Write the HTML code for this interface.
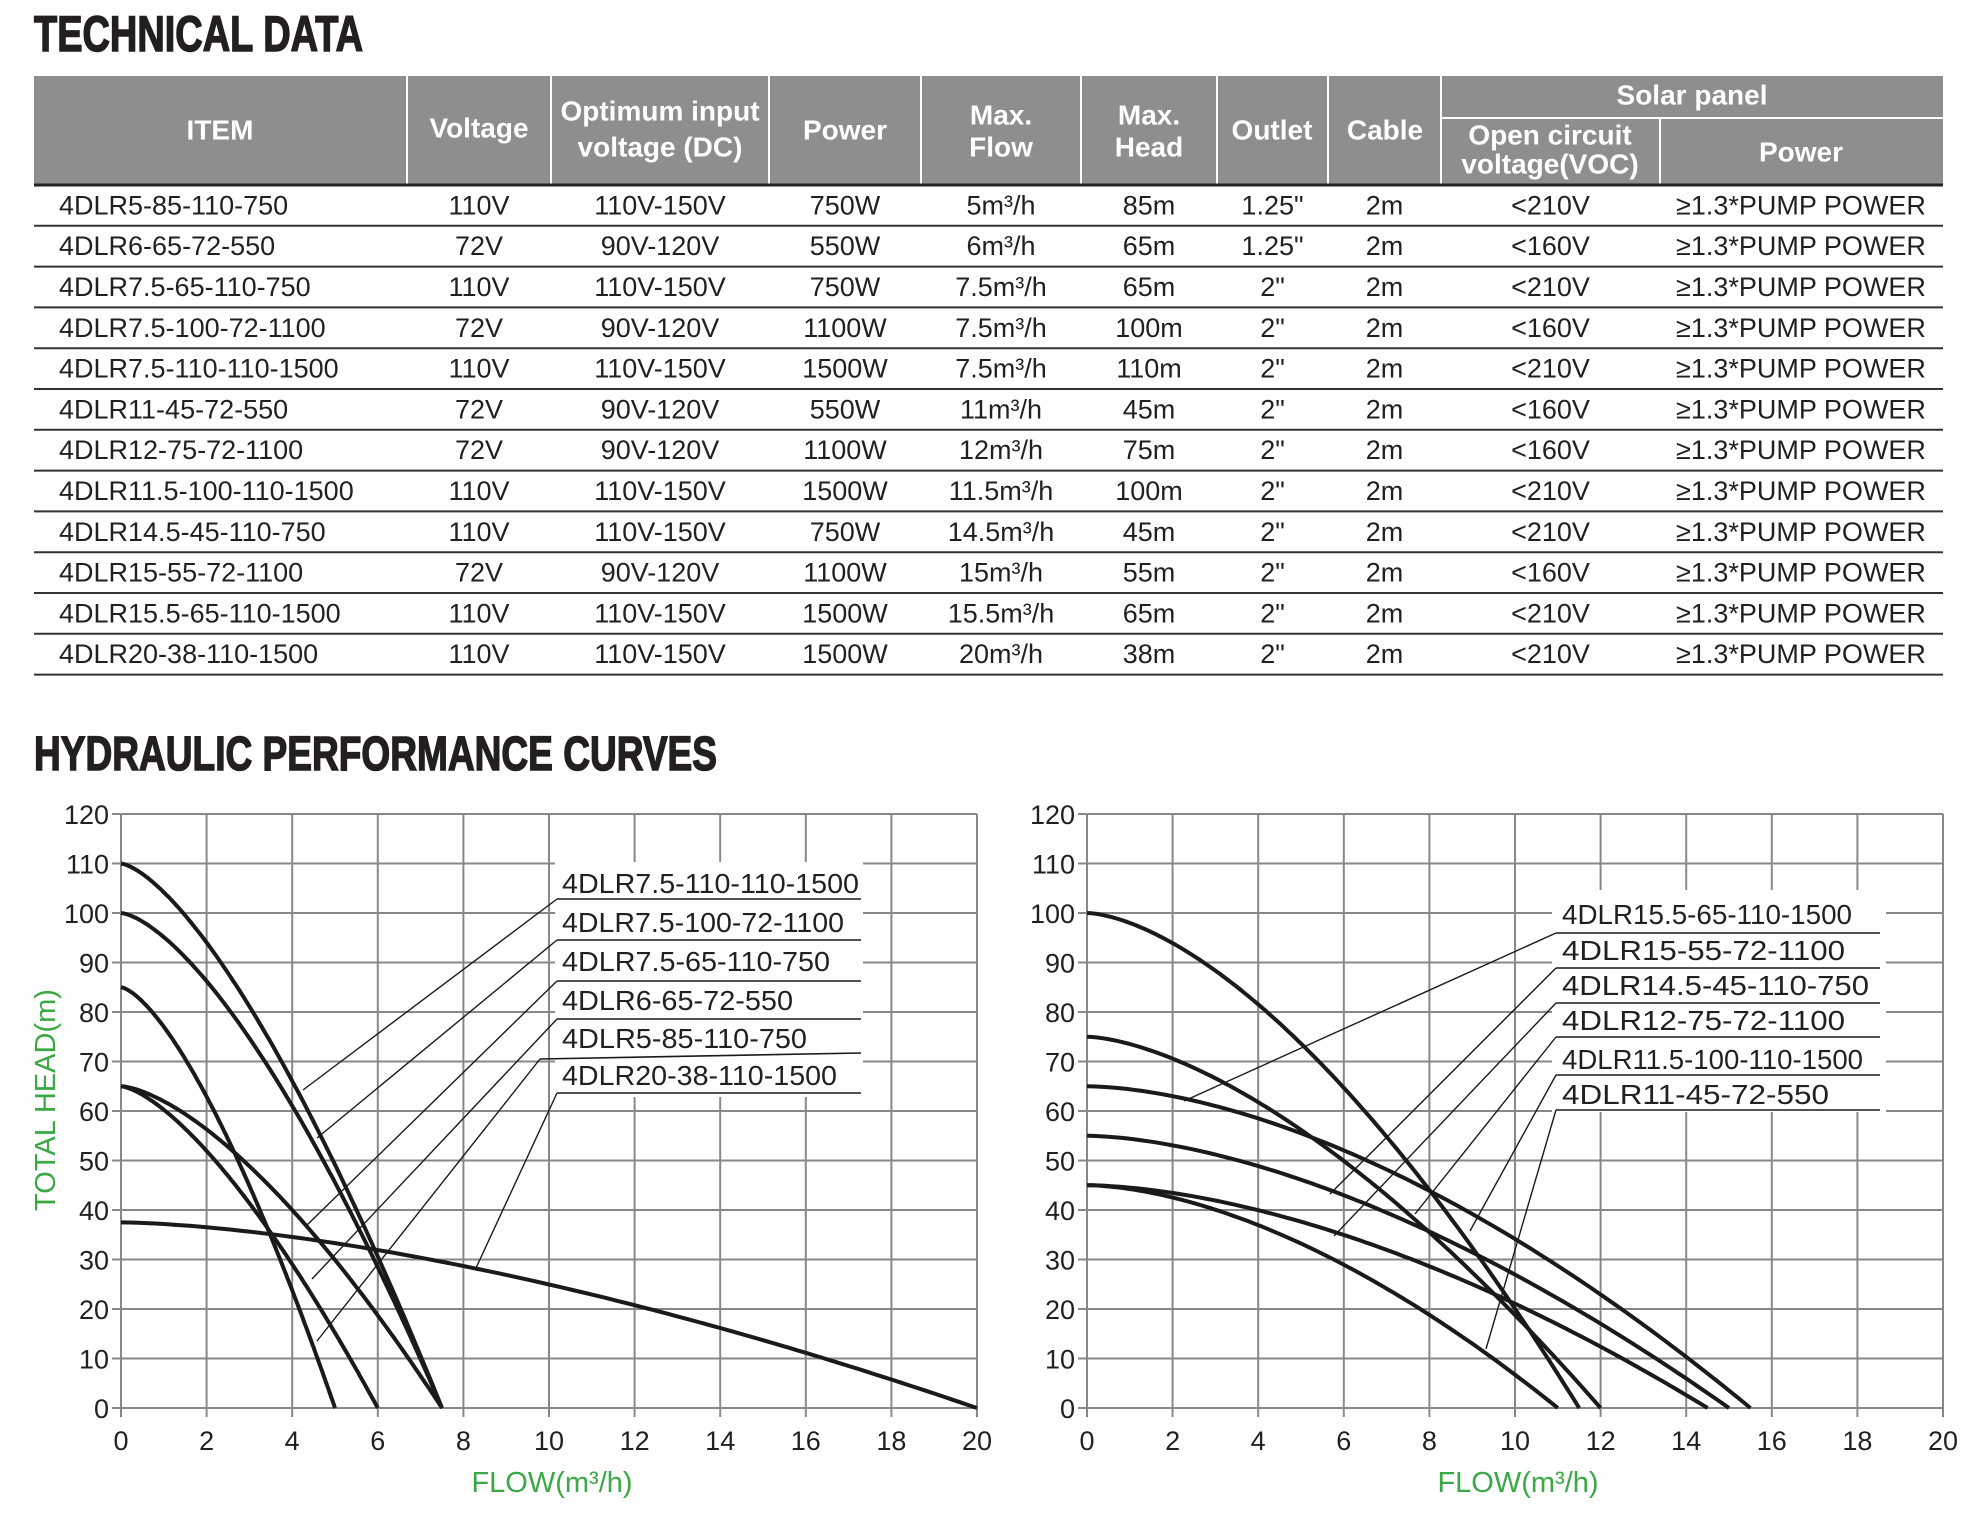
<!DOCTYPE html>
<html><head><meta charset="utf-8"><style>
html,body{margin:0;padding:0;background:#fff;}
svg{display:block;font-family:"Liberation Sans",Arial,sans-serif;}
</style></head><body>
<svg id="s" width="1982" height="1515" viewBox="0 0 1982 1515" xmlns="http://www.w3.org/2000/svg">
<rect width="1982" height="1515" fill="#fff"/>
<text x="34" y="51" font-size="50" font-weight="bold" fill="#231f20" stroke="#231f20" stroke-width="1.5" textLength="329" lengthAdjust="spacingAndGlyphs">TECHNICAL DATA</text>
<text x="34" y="770" font-size="48" font-weight="bold" fill="#231f20" stroke="#231f20" stroke-width="1.5" textLength="683" lengthAdjust="spacingAndGlyphs">HYDRAULIC PERFORMANCE CURVES</text>
<g id="tbl"></g>
<g id="charts"></g>
</svg>
<script>
const NS="http://www.w3.org/2000/svg";
function el(parent,tag,attrs,text){const e=document.createElementNS(NS,tag);for(const k in attrs)e.setAttribute(k,attrs[k]);if(text!==undefined)e.textContent=text;parent.appendChild(e);return e;}
const tbl=document.getElementById('tbl');
el(tbl,'rect',{x:34,y:76,width:1909,height:109,fill:'#8e8e8e'});
const cols=[34,407,551,769,921,1081,1217,1328,1441,1660,1943];
for(let i=1;i<cols.length-1;i++){
  const y1=(i==9)?118:76;
  el(tbl,'line',{x1:cols[i],y1:y1,x2:cols[i],y2:185,stroke:'#fff','stroke-width':2});
}
el(tbl,'line',{x1:1441,y1:118,x2:1943,y2:118,stroke:'#fff','stroke-width':2});
const hs={fill:'#fff','font-size':28,'font-weight':'bold','text-anchor':'middle','dominant-baseline':'central'};
function ht(x,y,t){el(tbl,'text',Object.assign({x:x,y:y},hs),t);}
ht(220,130,'ITEM');ht(479,128,'Voltage');ht(660,111,'Optimum input');ht(660,147,'voltage (DC)');
ht(845,130,'Power');ht(1001,115,'Max.');ht(1001,147,'Flow');ht(1149,115,'Max.');ht(1149,147,'Head');
ht(1272,130,'Outlet');ht(1385,130,'Cable');ht(1692,95,'Solar panel');ht(1550,135,'Open circuit');ht(1550,164,'voltage(VOC)');ht(1801,152,'Power');
const rows=[
['4DLR5-85-110-750','110V','110V-150V','750W','5m³/h','85m','1.25"','2m','<210V'],
['4DLR6-65-72-550','72V','90V-120V','550W','6m³/h','65m','1.25"','2m','<160V'],
['4DLR7.5-65-110-750','110V','110V-150V','750W','7.5m³/h','65m','2"','2m','<210V'],
['4DLR7.5-100-72-1100','72V','90V-120V','1100W','7.5m³/h','100m','2"','2m','<160V'],
['4DLR7.5-110-110-1500','110V','110V-150V','1500W','7.5m³/h','110m','2"','2m','<210V'],
['4DLR11-45-72-550','72V','90V-120V','550W','11m³/h','45m','2"','2m','<160V'],
['4DLR12-75-72-1100','72V','90V-120V','1100W','12m³/h','75m','2"','2m','<160V'],
['4DLR11.5-100-110-1500','110V','110V-150V','1500W','11.5m³/h','100m','2"','2m','<210V'],
['4DLR14.5-45-110-750','110V','110V-150V','750W','14.5m³/h','45m','2"','2m','<210V'],
['4DLR15-55-72-1100','72V','90V-120V','1100W','15m³/h','55m','2"','2m','<160V'],
['4DLR15.5-65-110-1500','110V','110V-150V','1500W','15.5m³/h','65m','2"','2m','<210V'],
['4DLR20-38-110-1500','110V','110V-150V','1500W','20m³/h','38m','2"','2m','<210V']];
const rh=40.8;
el(tbl,'line',{x1:34,y1:185,x2:1943,y2:185,stroke:'#222','stroke-width':3});
rows.forEach((r,i)=>{
  const cy=185+rh*(i+0.5);
  const ts={fill:'#231f20','font-size':27,'dominant-baseline':'central'};
  el(tbl,'text',Object.assign({x:59,y:cy},ts),r[0]);
  for(let c=1;c<r.length;c++){
    el(tbl,'text',Object.assign({x:(cols[c]+cols[c+1])/2,y:cy,'text-anchor':'middle'},ts),r[c]);
  }
  el(tbl,'text',Object.assign({x:1801,y:cy,'text-anchor':'middle'},ts),'≥1.3*PUMP POWER');
  el(tbl,'line',{x1:34,y1:185+rh*(i+1),x2:1943,y2:185+rh*(i+1),stroke:'#333','stroke-width':2});
});
const ch=document.getElementById('charts');
const Y0=1408,YH=594;
function chart(X0,curves,labels,box,showYTitle){
  const W=856;
  const px=q=>X0+q*W/20, py=h=>Y0-h*YH/120;
  for(let i=0;i<=10;i++){el(ch,'line',{x1:px(i*2),y1:py(0)+9,x2:px(i*2),y2:py(120),stroke:'#888','stroke-width':2});}
  for(let j=0;j<=12;j++){el(ch,'line',{x1:X0-9,y1:py(j*10),x2:px(20),y2:py(j*10),stroke:'#888','stroke-width':2});}
  for(let i=0;i<=10;i++)el(ch,'text',{x:px(i*2),y:1450,'font-size':27,'text-anchor':'middle',fill:'#231f20'},String(i*2));
  for(let j=0;j<=12;j++)el(ch,'text',{x:X0-12,y:py(j*10)+10,'font-size':27,'text-anchor':'end',fill:'#231f20'},String(j*10));
  el(ch,'text',{x:X0+431,y:1492,'font-size':29,'text-anchor':'middle',fill:'#3aa845'},'FLOW(m³/h)');
  if(showYTitle){el(ch,'text',{x:0,y:0,'font-size':29,'text-anchor':'middle',fill:'#3aa845',transform:'translate(55,1100) rotate(-90)'},'TOTAL HEAD(m)');}
  el(ch,'rect',{x:box[0],y:box[1],width:box[2],height:box[3],fill:'#fff'});
  curves.forEach(c=>{
    const [H0,Q,p]=c;let d='';
    for(let k=0;k<=100;k++){const q=Q*k/100;const h=H0*(1-Math.pow(q/Q,p));d+=(k?'L':'M')+px(q).toFixed(1)+','+py(h).toFixed(1);}
    el(ch,'path',{d:d,fill:'none',stroke:'#1a1a1a','stroke-width':4,'stroke-linejoin':'round'});
  });
  labels.forEach(l=>{
    el(ch,'text',{x:l.tx,y:l.ty,'font-size':28,fill:'#231f20',textLength:l.tw,lengthAdjust:'spacingAndGlyphs'},l.t);
    el(ch,'line',{x1:l.ux1,y1:l.uy1,x2:l.ux2,y2:l.uy2,stroke:'#1a1a1a','stroke-width':1.6});
    el(ch,'line',{x1:l.ux1,y1:l.uy1,x2:l.ex,y2:l.ey,stroke:'#1a1a1a','stroke-width':1.4});
  });
}
const L=[
{t:'4DLR7.5-110-110-1500',ty:893,uy:899,ex:303,ey:1090},
{t:'4DLR7.5-100-72-1100',ty:932,uy:940,ex:317,ey:1138},
{t:'4DLR7.5-65-110-750',ty:971,uy:981,ex:306,ey:1226},
{t:'4DLR6-65-72-550',ty:1010,uy:1019,ex:312,ey:1279},
{t:'4DLR5-85-110-750',ty:1048,uy:1056,ex:317,ey:1341},
{t:'4DLR20-38-110-1500',ty:1085,uy:1093,ex:476,ey:1268}];
const lw={'4DLR7.5-110-110-1500':297,'4DLR7.5-100-72-1100':282,'4DLR7.5-65-110-750':268,'4DLR6-65-72-550':231,'4DLR5-85-110-750':245,'4DLR20-38-110-1500':275};
const leftLabels=L.map((l,i)=>({t:l.t,tx:562,ty:l.ty,tw:lw[l.t],ux1:(i==4?540:557),uy1:(i==4?1059:l.uy),ux2:861,uy2:(i==4?1053:l.uy),ex:l.ex,ey:l.ey}));
chart(121,[[110,7.5,1.46],[100,7.5,1.5],[85,5,1.47],[65,6,1.46],[65,7.5,1.52],[37.5,20,1.58]],leftLabels,[555,862,308,235],true);
const R=[
{t:'4DLR15.5-65-110-1500',ty:924,uy:933,ex:1184,ey:1101,tw:290},
{t:'4DLR15-55-72-1100',ty:960,uy:968,ex:1330,ey:1194,tw:283},
{t:'4DLR14.5-45-110-750',ty:995,uy:1003,ex:1334,ey:1236,tw:307},
{t:'4DLR12-75-72-1100',ty:1030,uy:1037,ex:1415,ey:1214,tw:283},
{t:'4DLR11.5-100-110-1500',ty:1069,uy:1075,ex:1470,ey:1231,tw:301},
{t:'4DLR11-45-72-550',ty:1104,uy:1110,ex:1486,ey:1349,tw:267}];
const rightLabels=R.map(l=>({t:l.t,tx:1562,ty:l.ty,tw:l.tw,ux1:1556,uy1:l.uy,ux2:1880,uy2:l.uy,ex:l.ex,ey:l.ey}));
chart(1087,[[100,11.5,1.6],[75,12,1.58],[65,15.5,1.7],[55,15,1.66],[45,14.5,1.7],[45,11,1.7]],rightLabels,[1552,890,334,222],false);
</script>
</body></html>
